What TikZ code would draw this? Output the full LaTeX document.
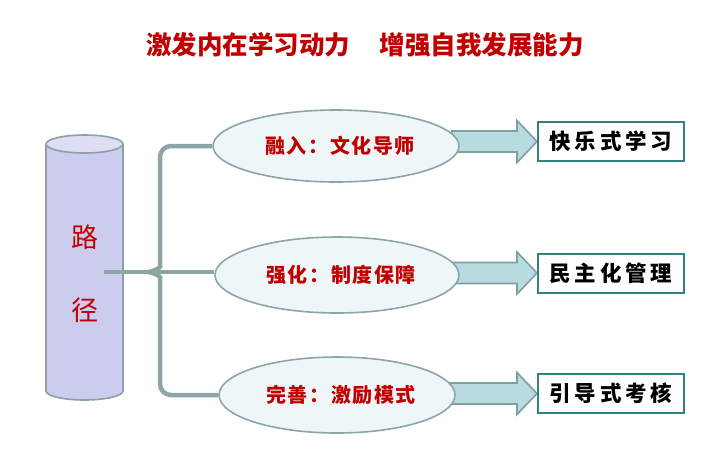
\documentclass[tikz,border=0pt]{standalone}
\usepackage{fontspec}
\setmainfont{Noto Sans CJK SC}
\usetikzlibrary{shapes.geometric,calc}
\pgfdeclarelayer{bg}
\pgfsetlayers{bg,main}
\definecolor{tred}{RGB}{192,0,0}
\definecolor{ellfill}{RGB}{238,246,248}
\definecolor{ellline}{RGB}{140,165,170}
\definecolor{arrfill}{RGB}{183,219,222}
\definecolor{arrline}{RGB}{125,160,165}
\definecolor{boxline}{RGB}{49,128,130}
\definecolor{bracec}{RGB}{140,165,165}
\definecolor{cylbody}{RGB}{204,204,238}
\definecolor{cyltop}{RGB}{222,222,243}
\definecolor{cylline}{RGB}{140,160,165}
\tikzset{
  ellnode/.style={ellipse, draw=ellline, line width=1.6pt, fill=ellfill, inner sep=0pt,
    text=tred, font=\fontsize{20}{20}\selectfont\bfseries\addfontfeature{LetterSpace=8}},
  boxnode/.style={rectangle, draw=boxline, line width=2pt, fill=white, inner sep=0pt,
    minimum width=146pt, minimum height=39pt,
    font=\fontsize{21.5}{21.5}\selectfont\bfseries\addfontfeature{LetterSpace=18}},
  fatarrow/.style={draw=arrline, line width=1.6pt, fill=arrfill, line join=miter},
  bracel/.style={draw=bracec, line width=4.5pt},
  cylshape/.style={draw=cylline, line width=1.6pt},
  cyltext/.style={text=tred, font=\fontsize{27}{27}\selectfont, inner sep=0pt},
}
\begin{document}
\begin{tikzpicture}[x=1pt,y=-1pt]
\useasboundingbox (0,0) rectangle (727,448);
% title
\node[text=tred, font=\fontsize{25.5}{26}\selectfont\bfseries, inner sep=0pt] (title) at (365,45)
  {激发内在学习动力\hspace{30pt}增强自我发展能力};
% cylinder
\node[minimum width=77pt, minimum height=247pt, inner sep=0pt] (cyl) at (84.5,267.5) {};
\fill[cylbody] (46,144) -- (46,391) arc (180:0:38.5 and 9) -- (123,144) -- cycle;
\draw[cylshape] (46,144) -- (46,391) arc (180:0:38.5 and 9) -- (123,144);
\draw[cylshape, fill=cyltop] (84.5,144) ellipse (38.5 and 9);
\node[cyltext] (lu) at (85,237) {路};
\node[cyltext] (jing) at (85,310) {径};
% ellipses
\node[ellnode, minimum width=246pt, minimum height=72pt] (e1) at (336,146) {\hspace*{8pt}融入：文化导师};
\node[ellnode, minimum width=244pt, minimum height=76pt] (e2) at (337,275) {\hspace*{8pt}强化：制度保障};
\node[ellnode, minimum width=236pt, minimum height=76pt] (e3) at (337,395) {\hspace*{8pt}完善：激励模式};
% boxes
\node[boxnode] (b1) at (611,141.5) {快乐式学习};
\node[boxnode] (b2) at (611,273) {民主化管理};
\node[boxnode] (b3) at (611,393.5) {引导式考核};
% brace
\coordinate (s) at (104,272);
\coordinate (tip) at (148,272);
\draw[bracel, rounded corners=11pt] (e1.west) -| (160,256) .. controls (160,267) and (156,271) .. (tip);
\draw[bracel, rounded corners=11pt] (e3.west) -| (160,288) .. controls (160,277) and (156,273) .. (tip);
\draw[bracel] (s) -- (s -| e2.west);
% arrows
\begin{pgfonlayer}{bg}
\foreach \e/\b in {e1/b1,e2/b2,e3/b3}{
  \draw[fatarrow] ($(\e.east |- \b.west)+(-8,-10.5)$) -- ($(\b.west)+(-20,-10.5)$)
    -- ($(\b.west)+(-20,-21)$) -- (\b.west) -- ($(\b.west)+(-20,21)$)
    -- ($(\b.west)+(-20,10.5)$) -- ($(\e.east |- \b.west)+(-8,10.5)$) -- cycle;
}
\end{pgfonlayer}
\end{tikzpicture}
\end{document}
